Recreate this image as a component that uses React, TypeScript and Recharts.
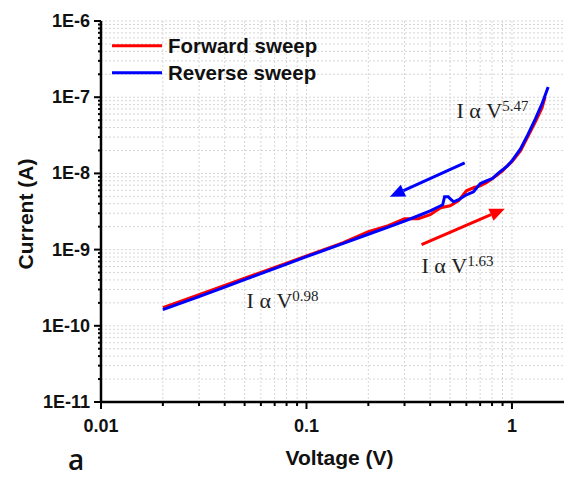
import {
  LineChart,
  Line,
  XAxis,
  YAxis,
  CartesianGrid,
  Legend,
  ReferenceLine,
  ReferenceDot,
  Label,
} from "recharts";

// forward sweep (red)
const forwardV = [
  0.02, 0.03, 0.04, 0.05, 0.06, 0.08, 0.1, 0.15, 0.2, 0.25,
  0.3, 0.35, 0.4, 0.45, 0.5, 0.55, 0.6, 0.65, 0.7, 0.75,
  0.8, 0.85, 0.9, 0.95, 1.0, 1.1, 1.2, 1.3, 1.4, 1.45,
];
const forwardI = [
  1.73e-10, 2.56e-10, 3.4e-10, 4.22e-10, 5.02e-10, 6.65e-10, 8.27e-10, 1.225e-9, 1.72e-9, 2.06e-9,
  2.54e-9, 2.54e-9, 2.87e-9, 3.54e-9, 3.76e-9, 4.38e-9, 5.92e-9, 6.48e-9, 6.88e-9, 7.53e-9,
  8.5e-9, 9.59e-9, 1.082e-8, 1.258e-8, 1.419e-8, 1.978e-8, 3.11e-8, 4.75e-8, 7.24e-8, 1.01e-7,
];

// reverse sweep (blue)
const reverseV = [
  0.02, 0.03, 0.04, 0.05, 0.06, 0.08, 0.1, 0.15, 0.2, 0.25,
  0.3, 0.35, 0.4, 0.45, 0.46, 0.47, 0.49, 0.5, 0.52, 0.55,
  0.6, 0.65, 0.7, 0.75, 0.8, 0.85, 0.9, 0.95, 1.0, 1.1,
  1.2, 1.3, 1.4, 1.5,
];
const reverseI = [
  1.63e-10, 2.41e-10, 3.22e-10, 4.03e-10, 4.83e-10, 6.44e-10, 8.07e-10, 1.195e-9, 1.59e-9, 1.97e-9,
  2.36e-9, 2.78e-9, 3.23e-9, 3.76e-9, 3.88e-9, 4.94e-9, 4.94e-9, 4.65e-9, 4.24e-9, 4.51e-9,
  5.24e-9, 5.74e-9, 7.31e-9, 8.0e-9, 8.5e-9, 9.88e-9, 1.115e-8, 1.258e-8, 1.463e-8, 2.1e-8,
  3.3e-8, 5.19e-8, 8.17e-8, 1.365e-7,
];

const xMajor = [0.01, 0.1, 1];
const xMinor = [
  0.02, 0.03, 0.04, 0.05, 0.06, 0.07, 0.08, 0.09,
  0.2, 0.3, 0.4, 0.5, 0.6, 0.7, 0.8, 0.9, 2, 3,
];
const yMajor = [1e-11, 1e-10, 1e-9, 1e-8, 1e-7, 1e-6];
const yLabels = ["1E-11", "1E-10", "1E-9", "1E-8", "1E-7", "1E-6"];

// power-law notes and sweep direction arrows (data coordinates)
const slopeNotes = [
  { v: 0.0511, i: 1.716e-10, exp: "0.98" },
  { v: 0.363, i: 4.98e-10, exp: "1.63" },
  { v: 0.537, i: 5.36e-8, exp: "5.47" },
];
const arrows = [
  { v1: 0.589, i1: 1.377e-8, v2: 0.2544, i2: 4.94e-9, color: "#0000ff" },
  { v1: 0.363, i1: 1.159e-9, v2: 0.9226, i2: 3.436e-9, color: "#ff0000" },
];

const seriesNames = ["Forward sweep", "Reverse sweep"];
const seriesColors = ["#ff0000", "#0000ff"];

const yMinor: number[] = [];
yMajor.slice(0, -1).forEach((d) => {
  for (let k = 2; k <= 9; k++) yMinor.push(k * d);
});

const xTicks = [...xMajor, ...xMinor].sort((a, b) => a - b);
const yTicks = [...yMajor, ...yMinor].sort((a, b) => a - b);

const forward = forwardV.map((v, k) => ({ v, i: forwardI[k] }));
const reverse = reverseV.map((v, k) => ({ v, i: reverseI[k] }));

const sans = "'Liberation Sans', Arial, sans-serif";
const serif = "'Liberation Serif', 'Times New Roman', serif";

const XTick = ({ x, y, payload }: any) => {
  const major = xMajor.includes(payload.value);
  return (
    <g>
      <line x1={x} x2={x} y1={y} y2={y + (major ? 7 : 4)} stroke="#000" strokeWidth={2} />
      {major && (
        <text x={x} y={y + 30} textAnchor="middle" fontFamily={sans} fontWeight="bold" fontSize={18} fill="#111">
          {String(payload.value)}
        </text>
      )}
    </g>
  );
};

const YTick = ({ x, y, payload }: any) => {
  const idx = yMajor.indexOf(payload.value);
  return (
    <g>
      <line x1={x} x2={x - (idx >= 0 ? 7 : 3)} y1={y} y2={y} stroke="#000" strokeWidth={2} />
      {idx >= 0 && (
        <text x={x - 11} y={y + 6} textAnchor="end" fontFamily={sans} fontWeight="bold" fontSize={18} fill="#111">
          {yLabels[idx]}
        </text>
      )}
    </g>
  );
};

const arrowShape = (color: string) => (p: any) => {
  const { x1, y1, x2, y2 } = p;
  const ang = Math.atan2(y2 - y1, x2 - x1);
  const len = 15;
  const half = 6.5;
  const bx = x2 - len * Math.cos(ang);
  const by = y2 - len * Math.sin(ang);
  const nx = -Math.sin(ang);
  const ny = Math.cos(ang);
  return (
    <g>
      <line x1={x1} y1={y1} x2={bx} y2={by} stroke={color} strokeWidth={3} />
      <polygon
        points={`${x2},${y2} ${bx + half * nx},${by + half * ny} ${bx - half * nx},${by - half * ny}`}
        fill={color}
      />
    </g>
  );
};

const noteShape = (exp: string) => (p: any) => (
  <text x={p.cx} y={p.cy} fontFamily={serif} fontSize={22} fill="#222">
    I α V
    <tspan dy={-7} fontSize={15}>
      {exp}
    </tspan>
  </text>
);

const LegendBox = () => (
  <svg width={260} height={60}>
    {seriesNames.map((name, k) => {
      const ly = 15.7 + k * 27;
      return (
        <g key={name}>
          <line x1={4} x2={54} y1={ly} y2={ly} stroke={seriesColors[k]} strokeWidth={3} />
          <text x={60} y={ly + 7.5} fontFamily={sans} fontWeight="bold" fontSize={20.5} fill="#111">
            {name}
          </text>
        </g>
      );
    })}
  </svg>
);

export default function App() {
  return (
    <div style={{ width: 564, height: 472, overflow: "hidden" }}>
      <LineChart width={610} height={472} margin={{ top: 13, right: 8, bottom: 0, left: 0 }}>
        <CartesianGrid strokeDasharray="2 2" stroke="#d6d6d6" strokeWidth={1} />
        <XAxis
          dataKey="v"
          type="number"
          scale="log"
          domain={[0.01, 3]}
          allowDataOverflow
          ticks={xTicks}
          interval={0}
          height={78}
          tickSize={0}
          tickMargin={0}
          tickLine={false}
          tick={<XTick />}
          axisLine={{ stroke: "#000", strokeWidth: 2.5 }}
          label={
            <Label
              content={() => (
                <g>
                  <text x={331.5} y={457} textAnchor="middle" fontFamily={sans} fontWeight="bold" fontSize={21} fill="#111">
                    Voltage (V)
                  </text>
                  <text x={60} y={462} fontFamily="'Open Sans', sans-serif" fontWeight={600} fontSize={28} fill="#111">
                    a
                  </text>
                </g>
              )}
            />
          }
        />
        <XAxis
          xAxisId="top"
          orientation="top"
          type="number"
          scale="log"
          domain={[0.01, 3]}
          allowDataOverflow
          height={0}
          tick={false}
          tickLine={false}
          axisLine={{ stroke: "#000", strokeWidth: 2.5 }}
        />
        <YAxis
          type="number"
          scale="log"
          domain={[1e-11, 1e-6]}
          allowDataOverflow
          ticks={yTicks}
          interval={0}
          width={93}
          tickSize={0}
          tickMargin={0}
          tickLine={false}
          tick={<YTick />}
          axisLine={{ stroke: "#000", strokeWidth: 2.5 }}
          label={
            <Label
              content={() => (
                <text
                  x={25}
                  y={206}
                  transform="rotate(-90 25 206)"
                  textAnchor="middle"
                  fontFamily={sans}
                  fontWeight="bold"
                  fontSize={21}
                  fill="#111"
                >
                  Current (A)
                </text>
              )}
            />
          }
        />
        <Legend
          layout="vertical"
          align="center"
          verticalAlign="middle"
          content={<LegendBox />}
          wrapperStyle={{ left: 100, top: 22, width: 260, height: 60 }}
        />
        <Line
          data={forward}
          dataKey="i"
          name={seriesNames[0]}
          type="linear"
          stroke={seriesColors[0]}
          strokeWidth={3}
          dot={false}
          isAnimationActive={false}
        />
        <Line
          data={reverse}
          dataKey="i"
          name={seriesNames[1]}
          type="linear"
          stroke={seriesColors[1]}
          strokeWidth={3}
          dot={false}
          isAnimationActive={false}
        />
        {arrows.map((a, k) => (
          <ReferenceLine
            key={k}
            segment={[
              { x: a.v1, y: a.i1 },
              { x: a.v2, y: a.i2 },
            ]}
            shape={arrowShape(a.color)}
          />
        ))}
        {slopeNotes.map((n) => (
          <ReferenceDot key={n.exp} x={n.v} y={n.i} r={0} shape={noteShape(n.exp)} />
        ))}
      </LineChart>
    </div>
  );
}
